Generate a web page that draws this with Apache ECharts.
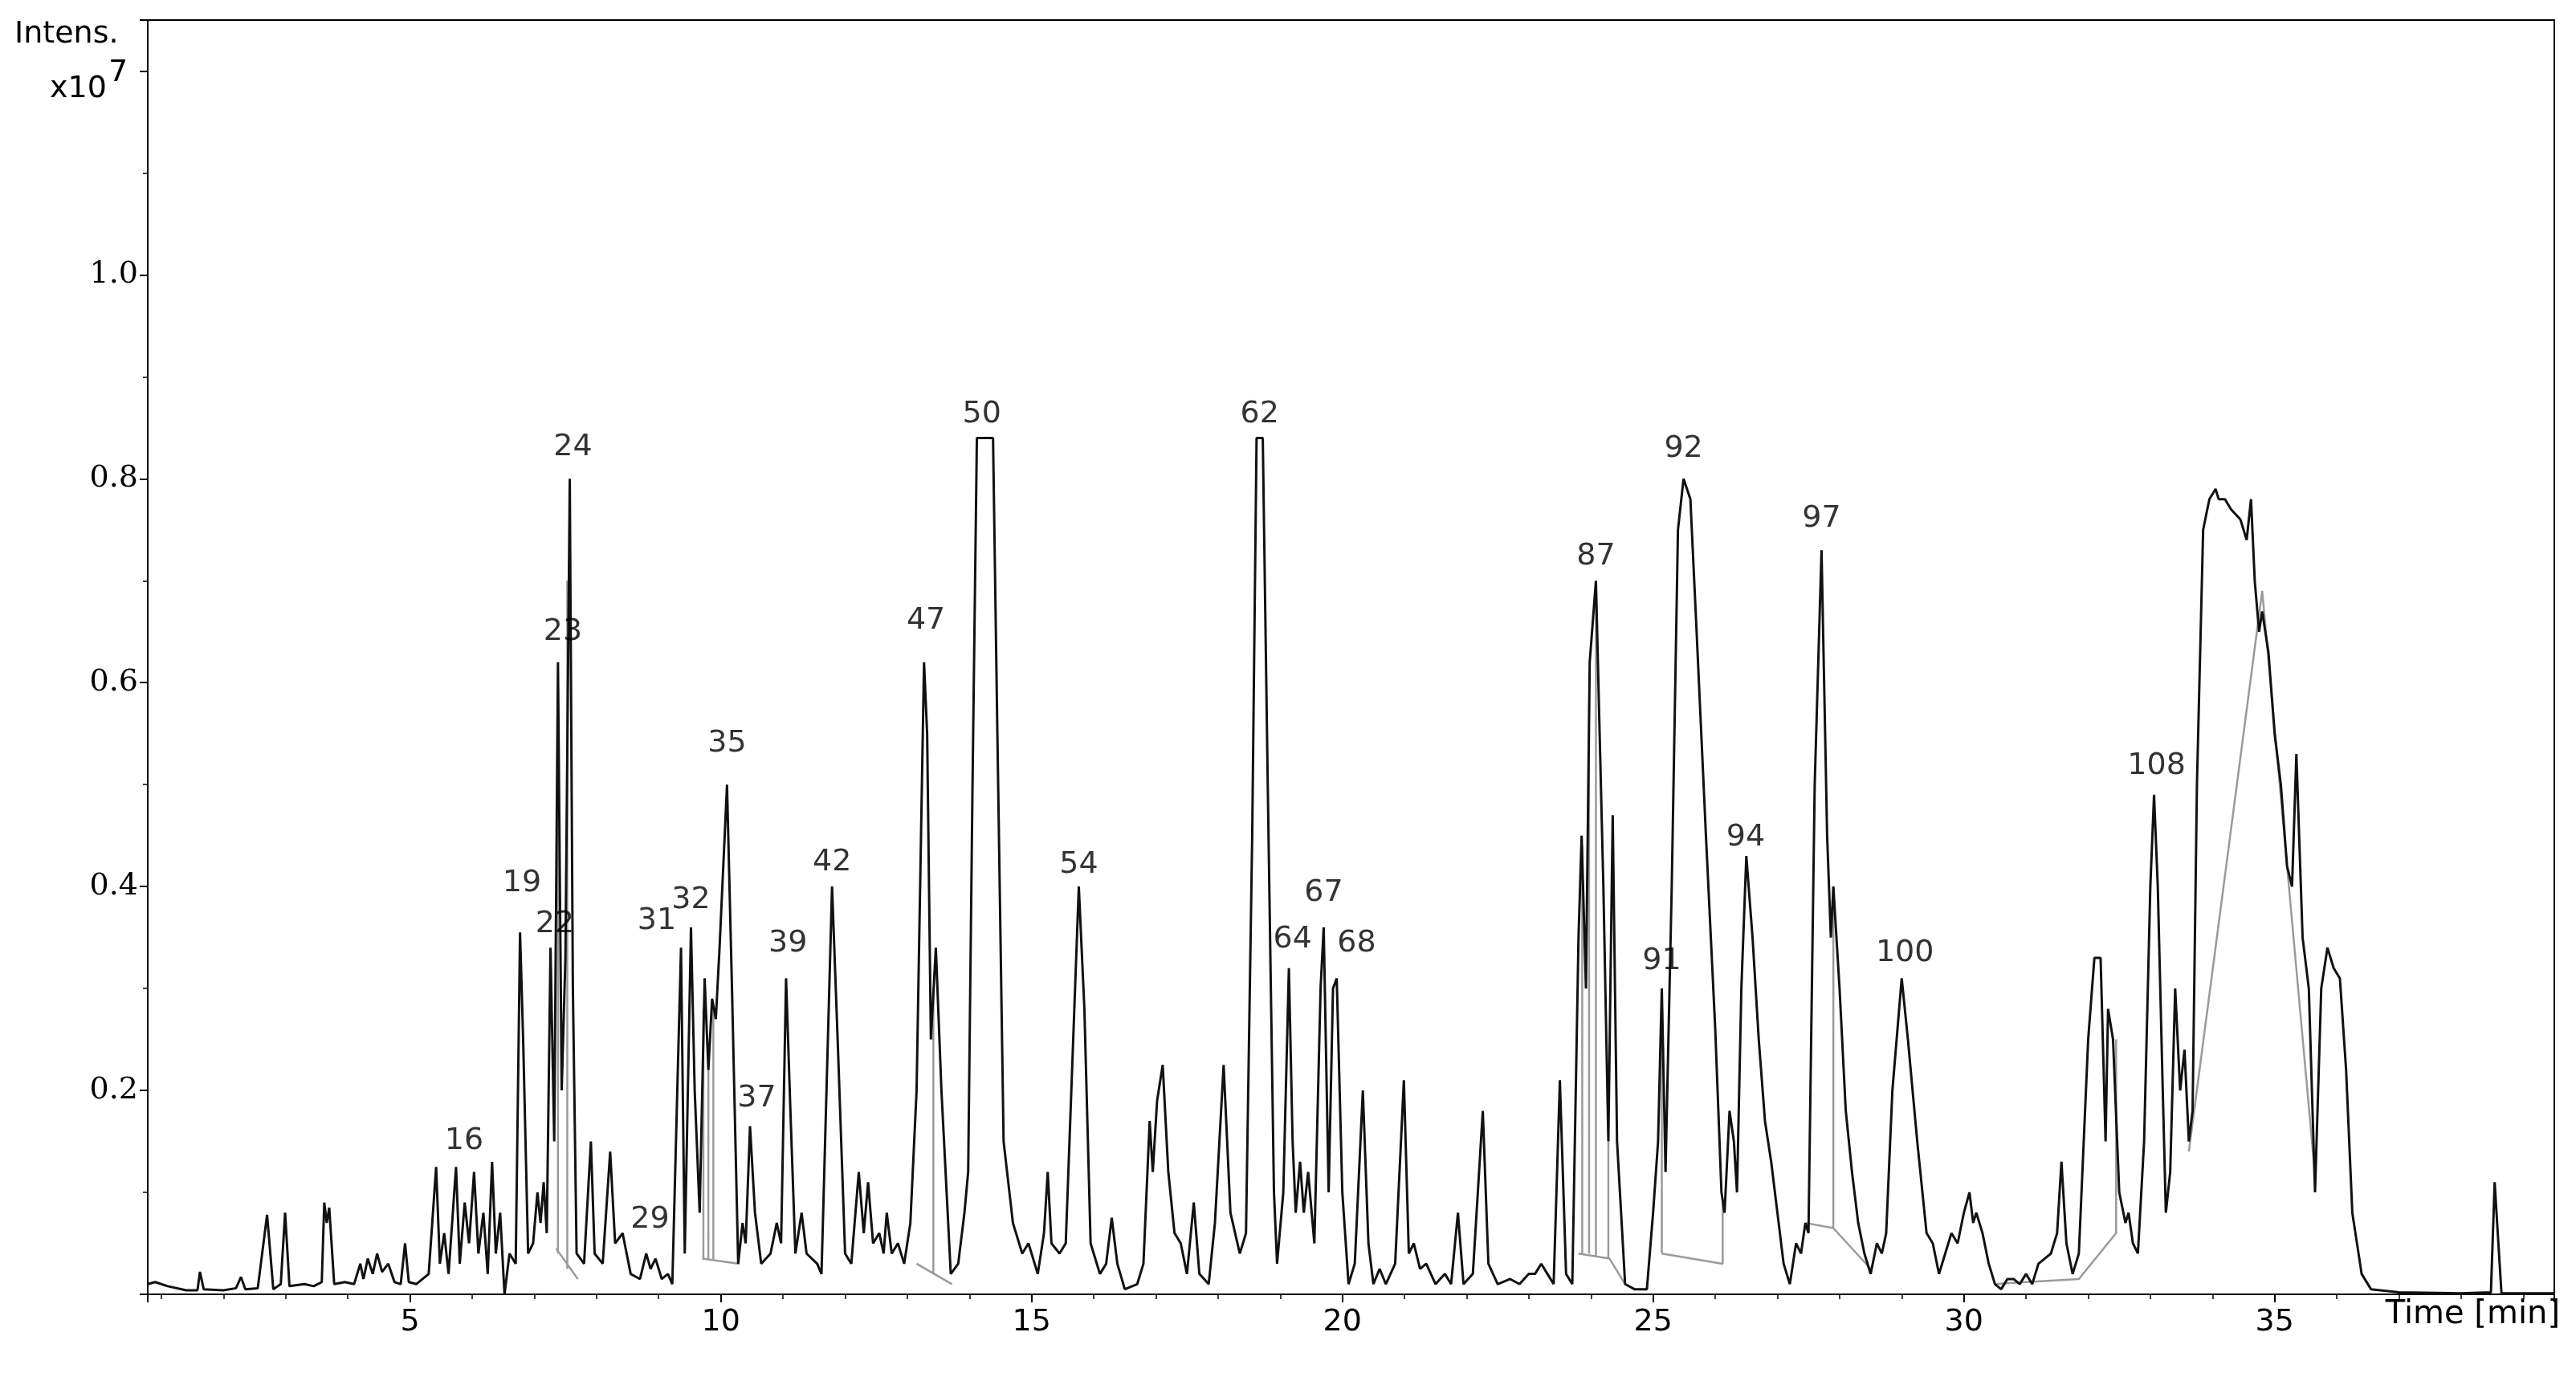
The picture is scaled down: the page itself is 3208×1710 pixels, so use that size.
<!DOCTYPE html>
<html>
<head>
<meta charset="utf-8">
<script src="https://cdn.jsdelivr.net/npm/echarts@6/dist/echarts.min.js"></script>
<style>html,body{margin:0;padding:0;background:#fff}#chart{width:3208px;height:1710px}</style>
</head>
<body>
<div id="chart"></div>
<script>
// chromatogram trace, [time (min), intensity (x10^7)]
var traceEarly = [[0.78,0.010],[0.9,0.012],[1.1,0.008],[1.4,0.004],[1.58,0.004],[1.62,0.022],[1.68,0.005],[2.0,0.004],[2.2,0.006],[2.28,0.017],[2.35,0.005],[2.55,0.006],[2.7,0.078],[2.8,0.005],[2.92,0.010],[2.99,0.080],[3.06,0.008],[3.3,0.010],[3.45,0.008],[3.58,0.012],[3.62,0.090],[3.66,0.07],[3.70,0.085],[3.78,0.010],[3.95,0.012],[4.1,0.010],[4.2,0.030],[4.25,0.015],[4.32,0.035],[4.4,0.020],[4.47,0.040],[4.55,0.022],[4.65,0.030],[4.75,0.012],[4.85,0.010],[4.92,0.050],[4.98,0.012],[5.1,0.010],[5.3,0.020]];
var traceA = [[5.42,0.125],[5.48,0.03],[5.55,0.06],[5.62,0.02],[5.74,0.125],[5.8,0.03],[5.88,0.09],[5.95,0.05],[6.03,0.12],[6.1,0.04],[6.18,0.08],[6.25,0.02],[6.32,0.13],[6.38,0.04],[6.45,0.08],[6.52,0.00],[6.6,0.04],[6.7,0.03],[6.77,0.355],[6.82,0.25],[6.9,0.04],[6.98,0.05],[7.05,0.10],[7.1,0.07],[7.15,0.11],[7.2,0.06],[7.26,0.34],[7.32,0.15],[7.38,0.62],[7.44,0.20],[7.5,0.33],[7.57,0.80],[7.62,0.30],[7.68,0.04],[7.8,0.03],[7.91,0.15],[7.97,0.04],[8.1,0.03],[8.22,0.14],[8.3,0.05],[8.42,0.06],[8.55,0.02],[8.7,0.015],[8.8,0.040],[8.87,0.025],[8.95,0.035],[9.05,0.015],[9.15,0.02],[9.22,0.01],[9.3,0.20],[9.36,0.34],[9.42,0.04],[9.52,0.36],[9.58,0.20],[9.66,0.08],[9.74,0.31],[9.8,0.22],[9.86,0.29],[9.92,0.27],[9.98,0.34],[10.1,0.50],[10.18,0.30],[10.28,0.03],[10.35,0.07],[10.4,0.05],[10.47,0.165],[10.55,0.08],[10.65,0.03],[10.8,0.04],[10.9,0.07],[10.97,0.05],[11.05,0.31],[11.12,0.18],[11.2,0.04],[11.3,0.08],[11.38,0.04],[11.55,0.03],[11.62,0.02],[11.79,0.40],[11.88,0.25],[12.0,0.04],[12.1,0.03],[12.22,0.12],[12.3,0.06],[12.37,0.11],[12.45,0.05],[12.55,0.06],[12.62,0.04],[12.67,0.08],[12.75,0.04],[12.85,0.05],[12.95,0.03],[13.05,0.07],[13.15,0.20],[13.27,0.62],[13.32,0.55],[13.38,0.25],[13.46,0.34],[13.55,0.20],[13.7,0.02],[13.82,0.03],[13.92,0.08],[13.98,0.12],[14.05,0.50],[14.12,0.84],[14.38,0.84],[14.45,0.55],[14.55,0.15],[14.7,0.07],[14.85,0.04],[14.95,0.05],[15.1,0.02],[15.2,0.06],[15.26,0.12],[15.32,0.05],[15.45,0.04],[15.55,0.05],[15.76,0.40],[15.85,0.28],[15.95,0.05],[16.1,0.02],[16.2,0.03],[16.29,0.075],[16.38,0.03],[16.5,0.005],[16.7,0.01],[16.8,0.03],[16.9,0.17],[16.95,0.12],[17.02,0.19],[17.11,0.225],[17.2,0.12],[17.3,0.06],[17.4,0.05],[17.5,0.02],[17.61,0.09],[17.7,0.02],[17.85,0.01],[17.95,0.07],[18.09,0.225],[18.2,0.08],[18.35,0.04],[18.45,0.06],[18.55,0.45],[18.62,0.84],[18.72,0.84],[18.8,0.50],[18.9,0.10],[18.95,0.03]];
var traceB = [[19.05,0.10],[19.14,0.32],[19.2,0.15],[19.25,0.08],[19.32,0.13],[19.38,0.08],[19.45,0.12],[19.55,0.05],[19.65,0.30],[19.70,0.36],[19.78,0.10],[19.85,0.30],[19.91,0.31],[20.0,0.10],[20.1,0.01],[20.2,0.03],[20.33,0.20],[20.42,0.05],[20.5,0.01],[20.6,0.025],[20.7,0.01],[20.85,0.03],[20.99,0.21],[21.07,0.04],[21.15,0.05],[21.25,0.025],[21.35,0.03],[21.5,0.01],[21.65,0.02],[21.75,0.01],[21.86,0.08],[21.95,0.01],[22.1,0.02],[22.26,0.18],[22.35,0.03],[22.5,0.01],[22.7,0.015],[22.85,0.01],[23.0,0.02],[23.1,0.02],[23.2,0.03],[23.3,0.02],[23.4,0.01],[23.5,0.21],[23.6,0.02],[23.7,0.01],[23.8,0.35],[23.85,0.45],[23.92,0.30],[23.98,0.62],[24.08,0.70],[24.2,0.40],[24.28,0.15],[24.35,0.47],[24.42,0.15],[24.55,0.01],[24.7,0.005],[24.9,0.005],[25.0,0.08],[25.08,0.15],[25.14,0.30],[25.2,0.12],[25.3,0.40],[25.4,0.75],[25.49,0.80],[25.6,0.78],[25.7,0.65],[25.85,0.45],[26.0,0.26],[26.1,0.10],[26.15,0.08],[26.23,0.18],[26.3,0.15],[26.35,0.10],[26.42,0.30],[26.5,0.43],[26.6,0.35],[26.7,0.25],[26.8,0.17],[26.9,0.13],[27.0,0.08],[27.1,0.03],[27.2,0.01],[27.3,0.05],[27.38,0.04],[27.45,0.07],[27.5,0.06],[27.6,0.50],[27.71,0.73],[27.8,0.45],[27.86,0.35],[27.9,0.40],[28.0,0.30],[28.1,0.18],[28.2,0.12],[28.3,0.07],[28.4,0.04],[28.5,0.02],[28.6,0.05],[28.68,0.04],[28.75,0.06],[28.85,0.20],[29.0,0.31],[29.1,0.25],[29.25,0.15],[29.4,0.06],[29.5,0.05],[29.6,0.02],[29.7,0.04],[29.8,0.06],[29.9,0.05],[30.0,0.08],[30.09,0.10],[30.15,0.07],[30.2,0.08],[30.3,0.06],[30.4,0.03],[30.5,0.01],[30.6,0.005],[30.7,0.015],[30.8,0.015],[30.9,0.01],[31.0,0.02],[31.1,0.01],[31.2,0.03],[31.3,0.035],[31.4,0.04],[31.5,0.06],[31.57,0.13],[31.65,0.05],[31.75,0.02],[31.85,0.04]];
var traceLate = [[32.0,0.25],[32.1,0.33],[32.2,0.33],[32.28,0.15],[32.32,0.28],[32.4,0.25],[32.5,0.10],[32.6,0.07],[32.65,0.08],[32.72,0.05],[32.8,0.04],[32.9,0.15],[33.0,0.40],[33.06,0.49],[33.12,0.40],[33.2,0.20],[33.25,0.08],[33.32,0.12],[33.4,0.30],[33.48,0.20],[33.55,0.24],[33.62,0.15],[33.68,0.18],[33.75,0.50],[33.85,0.75],[33.95,0.78],[34.05,0.79],[34.1,0.78],[34.2,0.78],[34.3,0.77],[34.45,0.76],[34.55,0.74],[34.62,0.78],[34.68,0.70],[34.75,0.65],[34.8,0.67],[34.9,0.63],[35.0,0.55],[35.1,0.50],[35.2,0.42],[35.28,0.40],[35.35,0.53],[35.45,0.35],[35.55,0.30],[35.65,0.10],[35.75,0.30],[35.85,0.34],[35.95,0.32],[36.05,0.31],[36.15,0.22],[36.25,0.08],[36.4,0.02],[36.55,0.005],[37.0,0.002],[38.0,0.001],[38.48,0.002],[38.54,0.11],[38.6,0.05],[38.65,0.001],[39.5,0.001]];

// integration baselines (grey), each a polyline
var baselines = [
  [[7.35,0.045],[7.70,0.015]], [[7.38,0.04],[7.38,0.55]], [[7.53,0.025],[7.53,0.70]],
  [[9.7,0.035],[10.3,0.03]], [[9.72,0.035],[9.72,0.28]], [[9.80,0.034],[9.80,0.22]], [[9.88,0.033],[9.88,0.28]],
  [[13.15,0.03],[13.72,0.01]], [[13.42,0.02],[13.42,0.30]],
  [[23.8,0.04],[24.3,0.035],[24.55,0.01]], [[23.86,0.04],[23.86,0.44]], [[23.97,0.04],[23.97,0.58]], [[24.08,0.038],[24.08,0.68]], [[24.28,0.035],[24.28,0.15]],
  [[25.14,0.04],[26.12,0.03],[26.12,0.09]], [[25.14,0.04],[25.14,0.28]],
  [[27.45,0.07],[27.9,0.065],[28.5,0.025]], [[27.9,0.065],[27.9,0.40]],
  [[30.5,0.01],[31.0,0.012],[31.85,0.015],[32.45,0.06],[32.45,0.25]],
  [[33.62,0.14],[34.8,0.69],[35.66,0.11]]
];

// peak numbers and label anchor positions
var peakNames = ['16','19','22','23','24','29','31','32','35','37','39','42','47','50','54','62','64','67','68','87','91','92','94','97','100','108'];
var peakTime = [5.87,6.80,7.33,7.46,7.62,8.86,8.97,9.52,10.10,10.58,11.08,11.79,13.30,14.20,15.76,18.67,19.20,19.70,20.23,24.08,25.14,25.49,26.49,27.71,29.05,33.10];
var peakInt = [0.150,0.403,0.363,0.650,0.831,0.073,0.366,0.387,0.540,0.192,0.344,0.424,0.661,0.863,0.421,0.863,0.348,0.394,0.344,0.724,0.327,0.829,0.448,0.761,0.335,0.518];

var trace = traceEarly.concat(traceA, traceB, traceLate);
var baseData = [];
baselines.forEach(function(seg){ baseData = baseData.concat(seg); baseData.push([null, null]); });
var labelData = peakNames.map(function(n, i){ return {value: [peakTime[i], peakInt[i]], name: n}; });

var myChart = echarts.init(document.getElementById('chart'));
var option = {
  animation: false,
  backgroundColor: '#fff',
  grid: {left: 184, right: 27, top: 25, bottom: 98, show: true, borderColor: '#000', borderWidth: 2},
  xAxis: {
    type: 'value', min: 0.78, max: 39.5, splitNumber: 8,
    axisLine: {show: true, lineStyle: {color: '#000', width: 2}},
    axisTick: {show: true, length: 10, lineStyle: {color: '#000', width: 2}},
    minorTick: {show: true, splitNumber: 5, length: 6, lineStyle: {color: '#000', width: 1.5}},
    axisLabel: {showMinLabel: false, showMaxLabel: false, fontFamily: 'DejaVu Sans', fontSize: 38, color: '#000', margin: 16},
    splitLine: {show: false}
  },
  yAxis: {
    type: 'value', min: 0, max: 1.25, splitNumber: 6,
    axisLine: {show: true, lineStyle: {color: '#000', width: 2}},
    axisTick: {show: true, length: 10, lineStyle: {color: '#000', width: 2}},
    minorTick: {show: true, splitNumber: 2, length: 6, lineStyle: {color: '#000', width: 1.5}},
    axisLabel: {showMinLabel: false, showMaxLabel: false, fontFamily: 'DejaVu Serif', fontSize: 38, color: '#000', margin: 12,
      formatter: function(v){ return v > 1.1 ? '' : v.toFixed(1); }},
    splitLine: {show: false}
  },
  graphic: [
    {type: 'text', left: 18, top: 24, style: {text: 'Intens.', font: '38px "DejaVu Sans"', fill: '#000'}},
    {type: 'text', left: 62, top: 92, style: {text: 'x10', font: '38px "DejaVu Sans"', fill: '#000'}},
    {type: 'text', left: 135, top: 72, style: {text: '7', font: '38px "DejaVu Sans"', fill: '#000'}},
    {type: 'text', right: 20, top: 1618, style: {text: 'Time [min]', font: '40px "DejaVu Sans"', fill: '#000'}}
  ],
  series: [
    {type: 'line', data: baseData, symbol: 'none', connectNulls: false, z: 1,
      lineStyle: {color: '#9a9a9a', width: 2.5}},
    {type: 'line', data: trace, symbol: 'none', z: 2,
      lineStyle: {color: '#111', width: 3}},
    {type: 'scatter', data: labelData, symbolSize: 0, z: 3,
      label: {show: true, position: 'inside', formatter: '{b}', fontFamily: 'DejaVu Sans', fontSize: 38, color: '#000'}}
  ]
};
myChart.setOption(option);
</script>
</body>
</html>
